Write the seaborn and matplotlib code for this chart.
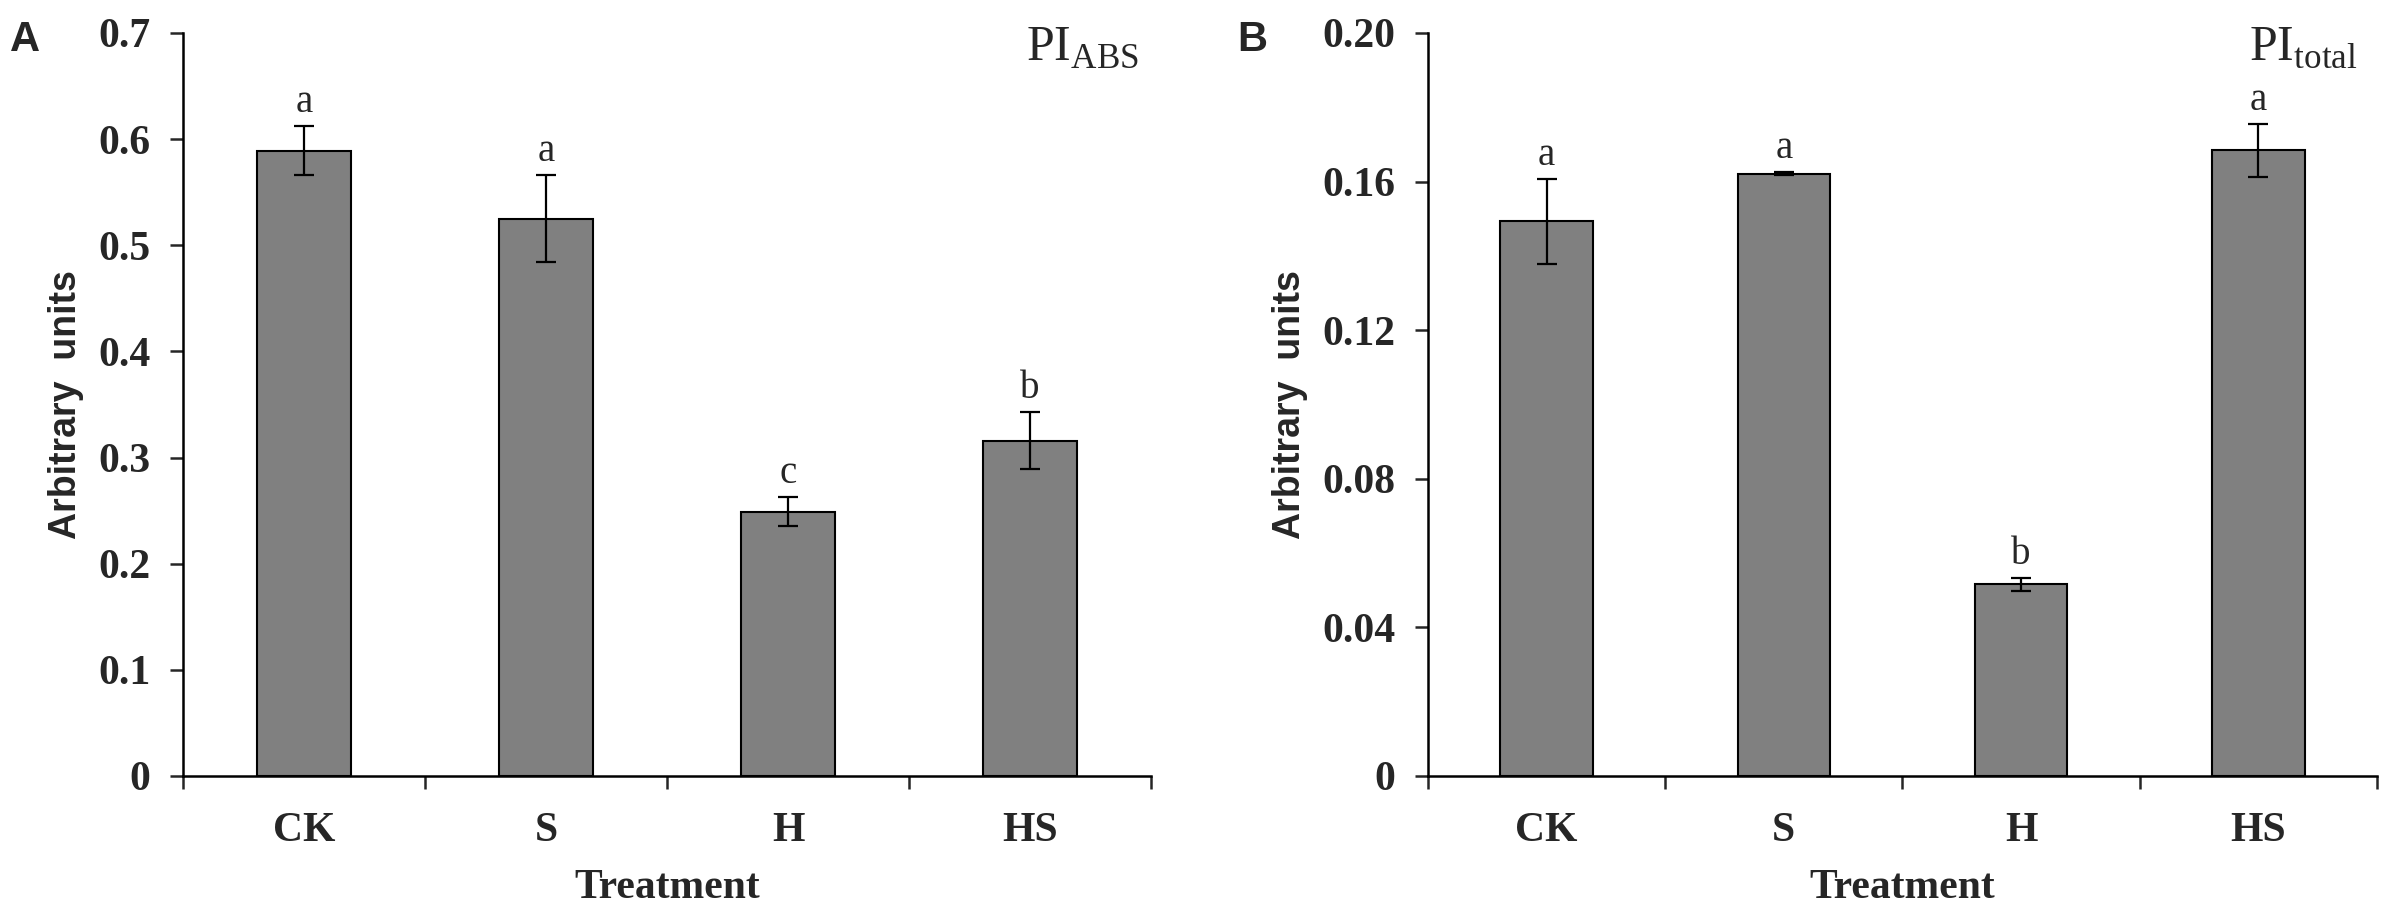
#!/usr/bin/env python3
# ============================================================================
# plot.py - PI_ABS and PI_total bar charts (two panels)
# ============================================================================

import numpy as np
import pandas as pd
import matplotlib
matplotlib.use('Agg')
import matplotlib.pyplot as plt
import seaborn as sns

# ============================================================================
# DATA
# ============================================================================
treatments = ['CK', 'S', 'H', 'HS']

pi_abs_mean = [0.589, 0.525, 0.249, 0.316]
pi_abs_sd = [0.023, 0.041, 0.014, 0.027]
pi_abs_letters = ['a', 'a', 'c', 'b']

pi_total_mean = [0.1493, 0.1621, 0.0516, 0.1684]
pi_total_sd = [0.0115, 0.0004, 0.0018, 0.0072]
pi_total_letters = ['a', 'a', 'b', 'a']

# ============================================================================
# STYLE
# ============================================================================
sns.set_theme(style='ticks')
plt.rcParams['font.family'] = ['Liberation Serif', 'DejaVu Serif']
plt.rcParams['mathtext.fontset'] = 'custom'
plt.rcParams['mathtext.rm'] = 'Liberation Serif'
plt.rcParams['axes.linewidth'] = 1.8
plt.rcParams['axes.edgecolor'] = 'black'

bar_color = '#808080'
serif = 'Liberation Serif'
sans = 'Liberation Sans'

fig = plt.figure(figsize=(24, 9.15), dpi=100)
ax_a = fig.add_axes([0.0763, 0.152, 0.4033, 0.812])
ax_b = fig.add_axes([0.595, 0.152, 0.3954, 0.812])

panels = [
    (ax_a, 'PI_ABS', pi_abs_mean, pi_abs_sd, pi_abs_letters,
     0.7, np.arange(0, 0.71, 0.1), '{:.1f}', r'$\mathrm{PI}_{\mathrm{ABS}}$', 0.987, 'A', 0.004),
    (ax_b, 'PI_total', pi_total_mean, pi_total_sd, pi_total_letters,
     0.20, np.arange(0, 0.201, 0.04), '{:.2f}', r'$\mathrm{PI}_{\mathrm{total}}$', 0.98, 'B', 0.5155),
]

for ax, col, means, sds, letters, ymax, yticks, fmt, title, tx, tag, tag_x in panels:
    df = pd.DataFrame({'Treatment': treatments, col: means})

    sns.barplot(data=df, x='Treatment', y=col, color=bar_color, saturation=1,
                edgecolor='black', linewidth=1.5, width=0.39, errorbar=None, ax=ax)

    x = np.arange(len(treatments))
    ax.errorbar(x, means, yerr=sds, fmt='none', ecolor='black',
                elinewidth=1.6, capsize=7.5, capthick=1.6, zorder=5)

    # significance letters
    for xi, m, s, lab in zip(x, means, sds, letters):
        ax.annotate(lab, (xi, m + s), xytext=(0, 10), textcoords='offset points',
                    ha='center', va='baseline', fontsize=28, family=serif)

    ax.set_ylim(0, ymax)
    ax.set_xlim(-0.5, len(treatments) - 0.5)
    ax.set_yticks(yticks)
    ax.set_yticklabels(['0'] + [fmt.format(v) for v in yticks[1:]],
                       fontsize=30, fontweight='bold', family=serif)
    ax.set_xticks(x)
    ax.set_xticklabels(treatments, fontsize=30, fontweight='bold', family=serif)
    ax.set_xticks(np.arange(-0.5, len(treatments)), minor=True)

    ax.tick_params(axis='x', which='major', length=0, pad=26)
    ax.tick_params(axis='x', which='minor', length=9.5, width=1.8, direction='out')
    ax.tick_params(axis='y', which='major', length=9.5, width=1.8, direction='out', pad=14)

    ax.set_xlabel('Treatment', fontsize=30, fontweight='bold', family=serif, labelpad=14)
    ax.set_ylabel('Arbitrary  units', fontsize=27, fontweight='bold', family=sans, labelpad=10)

    sns.despine(ax=ax)
    ax.grid(False)

    ax.text(tx, 1.012, title, transform=ax.transAxes, ha='right', va='top', fontsize=36)
    fig.text(tag_x, 0.978, tag, ha='left', va='top', fontsize=30,
             fontweight='bold', family=sans)

fig.savefig('out.png', dpi=100)
plt.close(fig)
